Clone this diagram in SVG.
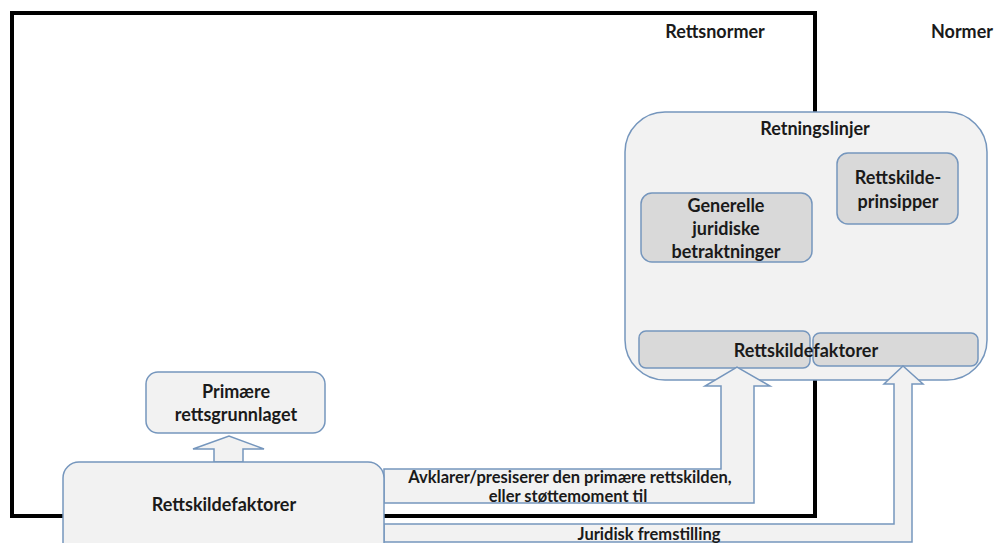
<svg xmlns="http://www.w3.org/2000/svg" width="1000" height="543" viewBox="0 0 1000 543">
<style>
text{font-family:Lato,"Liberation Sans",sans-serif;font-weight:700;fill:#1a1a1a;text-anchor:middle}
.t{font-size:18px}
.s{font-size:16.5px}
.light{fill:#f2f2f2;stroke:#7596bd;stroke-width:1.5}
.dark{fill:#d9d9d9;stroke:#7596bd;stroke-width:1.5}
.arrow{fill:#f2f2f2;stroke:#7596bd;stroke-width:1.5;stroke-linejoin:miter}
</style>
<rect width="1000" height="543" fill="#ffffff"/>
<g id="rettsnormer">
<rect x="12" y="13" width="803" height="503" fill="none" stroke="#000" stroke-width="4"/>
<text class="t" x="715" y="38">Rettsnormer</text>
</g>
<g id="normer">
<text class="t" x="962" y="38">Normer</text>
</g>
<g id="retningslinjer">
<rect class="light" x="625" y="112" width="362" height="268" rx="40" ry="40"/>
<text class="t" x="815" y="135">Retningslinjer</text>
</g>
<g id="rettskildeprinsipper">
<rect class="dark" x="837" y="153" width="121" height="71" rx="11" ry="11"/>
<text class="t" x="898" y="184">Rettskilde-</text>
<text class="t" x="898" y="208">prinsipper</text>
</g>
<g id="generelle">
<rect class="dark" x="641" y="193" width="171" height="69" rx="11" ry="11"/>
<text class="t" x="726" y="212">Generelle</text>
<text class="t" x="726" y="235">juridiske</text>
<text class="t" x="726" y="258">betraktninger</text>
</g>
<g id="rettskildefaktorer-retningslinjer">
<rect class="dark" x="639" y="331" width="171" height="37" rx="7" ry="7"/>
<rect class="dark" x="813" y="333" width="165" height="33" rx="7" ry="7"/>
<text class="t" x="806" y="357">Rettskildefaktorer</text>
</g>
<g id="connectors">
<polygon class="arrow" points="384,469 721,469 721,386 705,386 737,367 770,386 754,386 754,503 384,503"/>
<polygon class="arrow" points="384,524 894,524 894,384 884,384 903,366 923,384 912,384 912,542 384,542"/>
<polygon class="arrow" points="214,462 214,449 193,449 229,436 264,449 243,449 243,462"/>
<text class="s" x="570" y="483">Avklarer/presiserer den primære rettskilden,</text>
<text class="s" x="568" y="502">eller støttemoment til</text>
<text class="s" x="649" y="540">Juridisk fremstilling</text>
</g>
<g id="primaere">
<rect class="light" x="146" y="372" width="179" height="61" rx="12" ry="12"/>
<text class="t" x="236" y="398">Primære</text>
<text class="t" x="236" y="421">rettsgrunnlaget</text>
</g>
<g id="rettskildefaktorer">
<rect class="light" x="63" y="462" width="321" height="100" rx="16" ry="16"/>
<text class="t" x="224" y="511">Rettskildefaktorer</text>
</g>
</svg>
